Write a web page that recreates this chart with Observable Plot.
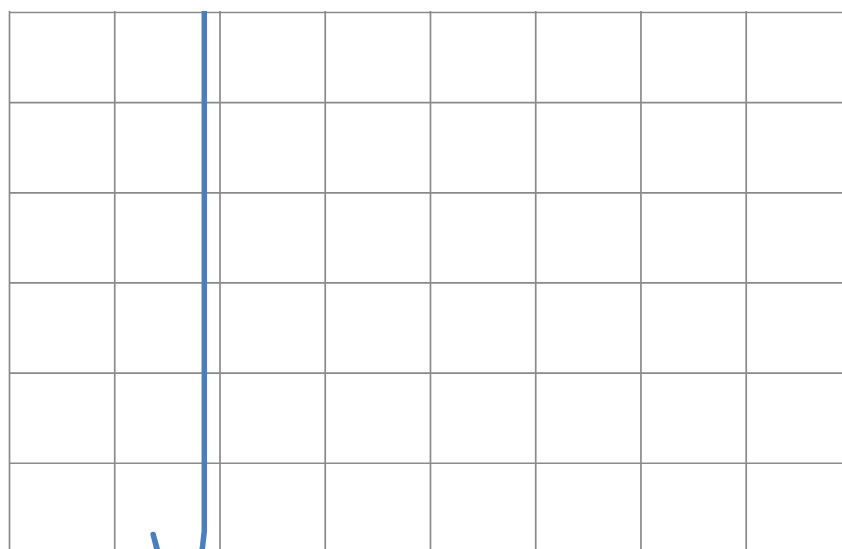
<!DOCTYPE html>
<html>
<head>
<meta charset="utf-8">
<script src="https://cdn.jsdelivr.net/npm/d3@7"></script>
<script src="https://cdn.jsdelivr.net/npm/@observablehq/plot@0.6"></script>
<style>
  html, body { margin: 0; padding: 0; background: #ffffff; }
  #chart svg { display: block; }
</style>
</head>
<body>
<div id="chart"></div>
<script>
// Grid tick values (abstract units of the zoomed-in view)
const xTicks = [0, 1, 2, 3, 4, 5, 6, 7];
const yTicks = [1, 2, 3, 4, 5, 6];

// Blue series
const seriesX = [1.475, 1.365, 1.485, 1.79, 1.835, 1.851, 1.851];
const seriesY = [-0.3, 0.21, -0.3, -0.3, 0.08, 0.25, 6.2];

const data = seriesX.map((x, i) => ({x, y: seriesY[i]}));

const chart = Plot.plot({
  width: 842,
  height: 549,
  marginTop: 11,
  marginLeft: 9,
  marginRight: 0,
  marginBottom: 0,
  style: {background: "#ffffff"},
  x: {domain: [0, 7.915], axis: null},
  y: {domain: [0.043, 6.011], axis: null},
  marks: [
    Plot.ruleX(xTicks, {x: d => d, y1: 0.043, y2: 6.011, stroke: "#8a8a8a", strokeWidth: 1.7}),
    Plot.ruleY(yTicks, {y: d => d, x1: 0, x2: 7.915, stroke: "#8a8a8a", strokeWidth: 1.7}),
    Plot.line(data, {x: "x", y: "y", stroke: "#4a7ebe", strokeWidth: 5.5, clip: true, curve: "linear", strokeLinejoin: "round", strokeLinecap: "round"})
  ]
});
document.getElementById("chart").appendChild(chart);
</script>
</body>
</html>
